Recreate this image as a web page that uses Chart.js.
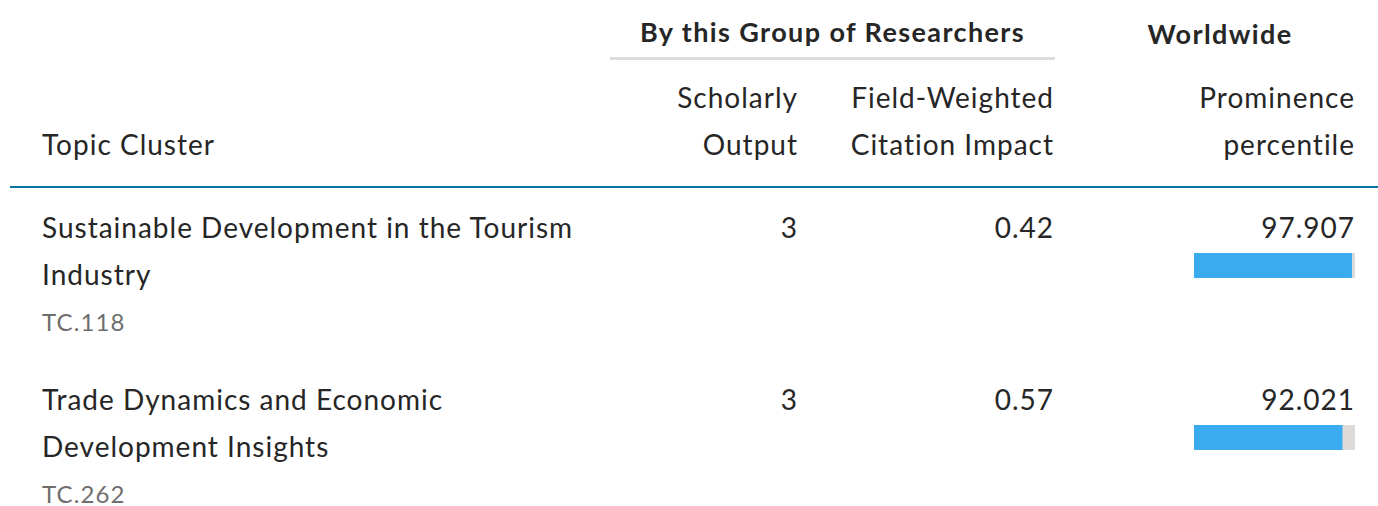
<!DOCTYPE html>
<html>
<head>
<meta charset="utf-8">
<script src="https://cdn.jsdelivr.net/npm/chart.js@4.4.0/dist/chart.umd.min.js"></script>
<style>
  body { margin: 0; width: 1378px; height: 506px; background: #fff; font-family: 'Lato', 'Open Sans', sans-serif; color: #262626; overflow: hidden; position: relative; }
  .t { position: absolute; font-size: 28px; line-height: 47px; white-space: nowrap; letter-spacing: 1px; }
  .r { text-align: right; margin-right: -1px; }
  .b { font-weight: 700; font-size: 27px; letter-spacing: 1.4px; }
  .code { color: #6e6e6e; font-size: 24px; letter-spacing: 1.1px; }
  .rule { position: absolute; }
  .bar { position: absolute; left: 1194px; width: 161px; height: 25px; }
</style>
</head>
<body>
<div class="t b" style="left:610px;width:445px;top:8px;text-align:center">By this Group of Researchers</div>
<div class="t b" style="left:1120px;width:200px;top:10px;text-align:center">Worldwide</div>
<div class="rule" style="left:610px;top:57px;width:445px;height:3px;background:#dcdcdc"></div>

<div class="t r" style="right:581px;top:74px">Scholarly<br>Output</div>
<div class="t r" style="right:325px;top:74px">Field-Weighted<br>Citation Impact</div>
<div class="t r" style="right:24px;top:74px">Prominence<br>percentile</div>
<div class="t" style="left:42px;top:121px">Topic Cluster</div>
<div class="rule" style="left:10px;top:186px;width:1368px;height:2px;background:#0a74a0"></div>

<div id="rows"></div>

<script>
const topics = ['Sustainable Development in the Tourism\nIndustry', 'Trade Dynamics and Economic\nDevelopment Insights'];
const topicCodes = ['TC.118', 'TC.262'];
const scholarlyOutput = [3, 3];
const fwci = ['0.42', '0.57'];
const prominence = [97.907, 92.021];

const rowTop = [204, 376];
const rows = document.getElementById('rows');

topics.forEach((nome, i) => {
    const y = rowTop[i];
    rows.innerHTML += `
      <div class="t" style="left:42px;top:${y}px">${nome.replace('\n', '<br>')}</div>
      <div class="t code" style="left:42px;top:${y + 94}px">${topicCodes[i]}</div>
      <div class="t r" style="right:581px;top:${y}px">${scholarlyOutput[i]}</div>
      <div class="t r" style="right:325px;top:${y}px">${fwci[i]}</div>
      <div class="t r" style="right:24px;top:${y}px">${prominence[i].toFixed(3)}</div>
      <div class="bar" style="top:${y + 49}px"><canvas id="bar${i}"></canvas></div>`;
});

topics.forEach((nome, i) => {
    new Chart(document.getElementById('bar' + i), {
        type: 'bar',
        data: {
            labels: [topicCodes[i]],
            datasets: [
                { data: [prominence[i]], backgroundColor: '#3aabef', barPercentage: 1, categoryPercentage: 1 },
                { data: [100 - prominence[i]], backgroundColor: '#dedad8', barPercentage: 1, categoryPercentage: 1 }
            ]
        },
        options: {
            indexAxis: 'y',
            responsive: true,
            maintainAspectRatio: false,
            animation: false,
            layout: { padding: 0 },
            plugins: { legend: { display: false }, tooltip: { enabled: false } },
            scales: {
                x: { stacked: true, min: 0, max: 100, display: false },
                y: { stacked: true, display: false }
            }
        }
    });
});
</script>
</body>
</html>
